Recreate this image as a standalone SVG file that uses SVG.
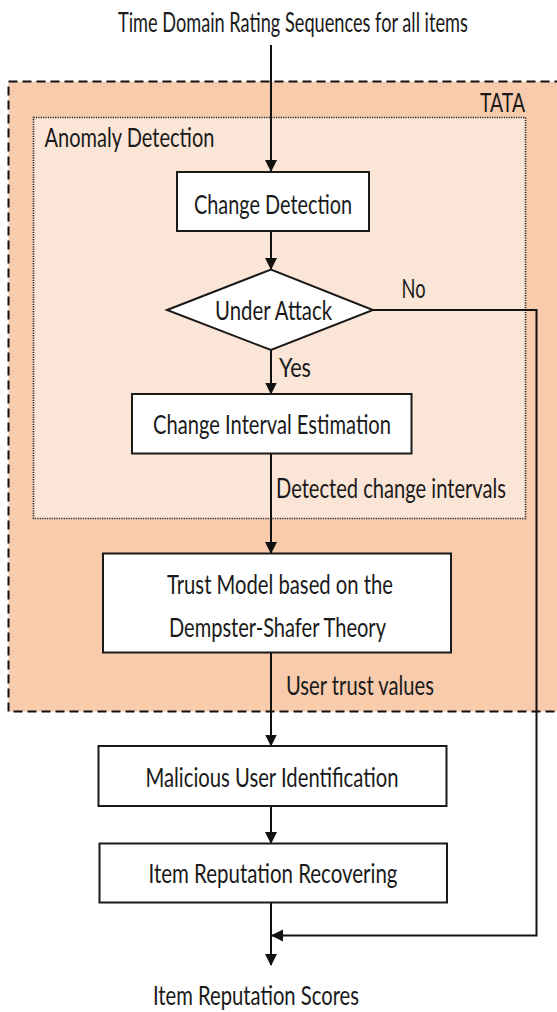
<svg xmlns="http://www.w3.org/2000/svg" width="557" height="1012" viewBox="0 0 557 1012">
<style>
text{font-family:Lato,"Liberation Sans",sans-serif;font-size:26.5px;fill:#1a1a1a}
.box{fill:#fff;stroke:#1a1a1a;stroke-width:2}
.ln{fill:none;stroke:#111;stroke-width:2}
</style>
<defs>
<marker id="ah" markerUnits="userSpaceOnUse" markerWidth="12" markerHeight="16" refX="11" refY="6" orient="auto" viewBox="0 0 12 12">
<path d="M0,0 L12,6 L0,12 Z" fill="#111"/>
</marker>
</defs>
<rect width="557" height="1012" fill="#fff"/>
<g id="tata">
<rect x="8.5" y="81.5" width="560" height="630" fill="#f8cbad" stroke="#111" stroke-width="2" stroke-dasharray="9 5"/>
<text x="525" y="111.5" text-anchor="end" textLength="45" lengthAdjust="spacingAndGlyphs">TATA</text>
</g>
<g id="anomaly">
<rect x="33.5" y="117.5" width="492" height="401" fill="#fbe5d6" stroke="#222" stroke-width="1.6" stroke-dasharray="1.2 1.2"/>
<text x="44.5" y="147" textLength="170" lengthAdjust="spacingAndGlyphs">Anomaly Detection</text>
</g>
<g id="connectors">
<line class="ln" x1="271" y1="45" x2="271" y2="171" marker-end="url(#ah)"/>
<line class="ln" x1="271" y1="232" x2="271" y2="269" marker-end="url(#ah)"/>
<line class="ln" x1="271" y1="350" x2="271" y2="393.5" marker-end="url(#ah)"/>
<line class="ln" x1="271" y1="453.5" x2="271" y2="553" marker-end="url(#ah)"/>
<line class="ln" x1="271" y1="653" x2="271" y2="745.5" marker-end="url(#ah)"/>
<line class="ln" x1="271" y1="806" x2="271" y2="843" marker-end="url(#ah)"/>
<line class="ln" x1="271" y1="902.5" x2="271" y2="965" marker-end="url(#ah)"/>
<polyline class="ln" points="373,310 536.5,310 536.5,935.5 272,935.5" marker-end="url(#ah)"/>
<text x="401.5" y="298" textLength="24" lengthAdjust="spacingAndGlyphs">No</text>
<text x="279" y="376.5" textLength="32" lengthAdjust="spacingAndGlyphs">Yes</text>
<text transform="translate(276,498) scale(0.76,1)" textLength="302.6" lengthAdjust="spacingAndGlyphs">Detected change intervals</text>
<text x="286" y="695" textLength="148" lengthAdjust="spacingAndGlyphs">User trust values</text>
</g>
<g id="title">
<text transform="translate(118,32) scale(0.69,1)" textLength="507" lengthAdjust="spacingAndGlyphs">Time Domain Rating Sequences for all items</text>
</g>
<g id="change-detection">
<rect class="box" x="177" y="172" width="192" height="59"/>
<text x="194" y="213.5" textLength="158" lengthAdjust="spacingAndGlyphs">Change Detection</text>
</g>
<g id="under-attack">
<polygon class="box" points="167,310 271,269.5 373,310 271,350"/>
<text x="215" y="320" textLength="117" lengthAdjust="spacingAndGlyphs">Under Attack</text>
</g>
<g id="change-interval">
<rect class="box" x="132" y="394" width="279.5" height="59.5"/>
<text x="153" y="434" textLength="238" lengthAdjust="spacingAndGlyphs">Change Interval Estimation</text>
</g>
<g id="trust-model">
<rect class="box" x="103" y="553.5" width="348" height="99"/>
<text x="167" y="594" textLength="226" lengthAdjust="spacingAndGlyphs">Trust Model based on the</text>
<text x="169" y="636.5" textLength="217" lengthAdjust="spacingAndGlyphs">Dempster-Shafer Theory</text>
</g>
<g id="malicious">
<rect class="box" x="98.5" y="746" width="348" height="60"/>
<text x="145.5" y="786.5" textLength="253" lengthAdjust="spacingAndGlyphs">Malicious User Identification</text>
</g>
<g id="recovering">
<rect class="box" x="99.5" y="843.5" width="347.5" height="59"/>
<text x="148.5" y="883" textLength="249" lengthAdjust="spacingAndGlyphs">Item Reputation Recovering</text>
</g>
<g id="scores">
<text x="153" y="1005" textLength="206" lengthAdjust="spacingAndGlyphs">Item Reputation Scores</text>
</g>
</svg>
